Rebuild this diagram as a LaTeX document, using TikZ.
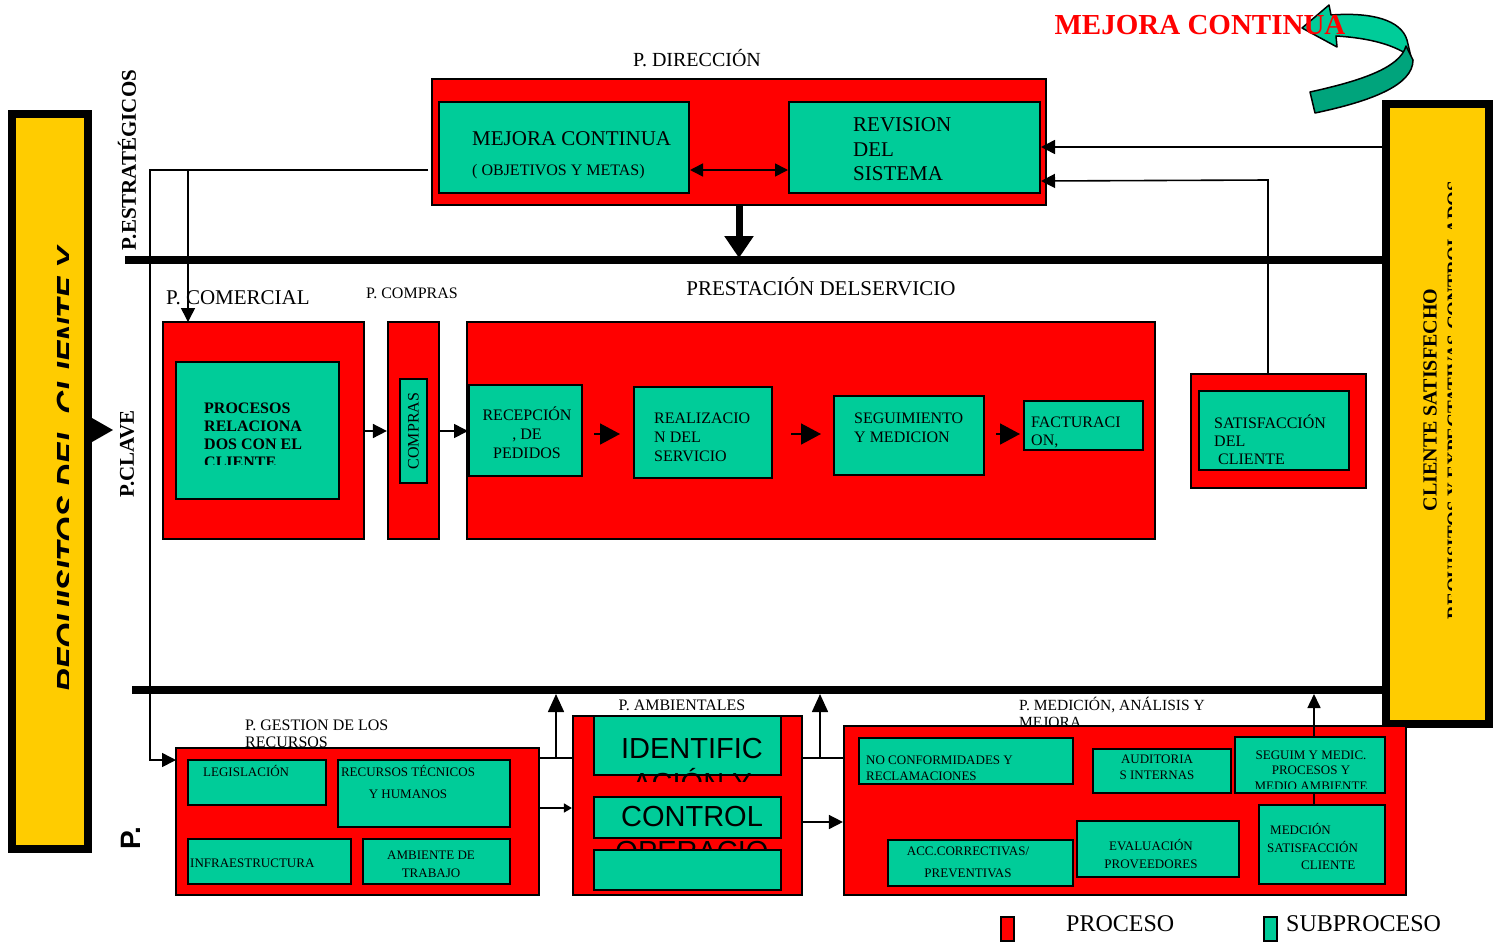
\documentclass[tikz,border=0pt]{standalone}
\usepackage{fontspec}
\setmainfont{Liberation Serif}
\newfontfamily\arialf{Liberation Sans}
\usetikzlibrary{fit,arrows.meta}
\definecolor{procred}{HTML}{FF0000}
\definecolor{subgreen}{HTML}{00CC99}
\definecolor{baryellow}{HTML}{FFCC00}
\definecolor{darkgreen}{HTML}{00A47C}
\begin{document}
\begin{tikzpicture}[x=1pt,y=-1pt,
 proc/.style={draw=black, line width=2.2pt, fill=procred, inner sep=0pt},
 sub/.style={draw=black, line width=2pt, fill=subgreen, inner sep=0pt},
 ybar/.style={draw=black, line width=8pt, fill=baryellow, inner sep=0pt},
 conn/.style={draw=black, line width=1.6pt},
 arr/.style={conn, -{Triangle[length=14pt,width=14pt]}},
 bigarr/.style={conn, -{Triangle[length=20pt,width=21pt]}},
 sep/.style={draw=black, line width=8pt},
 txt/.style={inner sep=0pt, font=\fontsize{16}{19}\selectfont},
 stxt/.style={inner sep=0pt, font=\fontsize{13}{16}\selectfont},
 ltxt/.style={inner sep=0pt, font=\fontsize{21}{24.5}\selectfont}]
\useasboundingbox (0,0) rectangle (1503,945);
\fill[white] (0,0) rectangle (1503,945);

% ---------- separators ----------
\coordinate (s1a) at (125,260); \coordinate (s1b) at (1385,260);
\coordinate (s2a) at (132,690); \coordinate (s2b) at (1385,690);
\draw[sep] (s1a) -- (s1b);
\draw[sep] (s2a) -- (s2b);

% ---------- left bar ----------
\node[ybar, fit={(12,114) (88,849)}] (req) {};
\begin{scope}
\clip (50,100) rectangle (68,860);
\node[inner sep=0pt, rotate=90, anchor=base, font=\arialf\bfseries\itshape\fontsize{32}{38}\selectfont] (reqt) at (79,470) {REQUISITOS DEL CLIENTE Y};
\end{scope}
\fill (92,418) -- (113,430) -- (92,442) -- cycle;
\node[inner sep=0pt, rotate=90, font=\bfseries\fontsize{21}{25}\selectfont] (pest) at (127,160) {P.ESTRATÉGICOS};
\node[inner sep=0pt, rotate=90, font=\bfseries\fontsize{21}{25}\selectfont] (pcla) at (127,454) {P.CLAVE};
\node[inner sep=0pt, rotate=90, font=\arialf\bfseries\fontsize{28}{32}\selectfont] (psop) at (131,838) {P.};

% ---------- right bar ----------
\node[ybar, fit={(1386,104) (1489,724)}] (cli) {};
\node[inner sep=0pt, rotate=90, font=\bfseries\fontsize{20}{24}\selectfont] (clit) at (1430,400) {CLIENTE SATISFECHO};
\begin{scope}
\clip (1447,150) rectangle (1451.5,650);
\node[inner sep=0pt, rotate=90, anchor=base, font=\bfseries\fontsize{19}{23}\selectfont] (clit2) at (1460,400) {REQUISITOS Y EXPECTATIVAS CONTROLADOS};
\end{scope}

% ---------- mejora continua arrow ----------
\filldraw[fill=subgreen, draw=black, line width=1.5pt, line join=round]
 (1302,28) -- (1329,5) -- (1331,15) .. controls (1372,12) and (1401,20) .. (1407,40)
 -- (1411,57) .. controls (1395,45) and (1370,38) .. (1336,36) -- (1337,47) -- cycle;
\filldraw[fill=darkgreen, draw=black, line width=1.5pt, line join=round]
 (1406,46) -- (1413,60) .. controls (1413,85) and (1372,101) .. (1315,113) -- (1310,92)
 .. controls (1360,81) and (1400,68) .. (1406,46) -- cycle;
\node[inner sep=0pt, text=procred, font=\bfseries\fontsize{29}{34}\selectfont] (mctitle) at (1200,25) {MEJORA CONTINUA};

% ---------- P. DIRECCION ----------
\node[inner sep=0pt, font=\fontsize{20}{24}\selectfont] (ldir) at (697,58) {P. DIRECCIÓN};
\node[proc, fit={(432,79) (1046,205)}] (dir) {};
\node[sub, fit={(439,102) (689,193)}] (mc) {};
\node[sub, fit={(789,102) (1040,193)}] (rev) {};
\node[ltxt, anchor=west] (mct1) at (472,139) {MEJORA CONTINUA};
\node[txt, anchor=west] (mct2) at (472,172) {( OBJETIVOS Y METAS)};
\node[ltxt, align=left, anchor=west] (revt) at (853,149.5) {REVISION\\DEL\\SISTEMA};
\draw[conn, {Triangle[length=13pt,width=13pt]}-{Triangle[length=13pt,width=13pt]}] (mc.east |- 0,170) -- (rev.west |- 0,170);
\draw[conn, line width=7pt, -{Triangle[length=22pt,width=28pt]}] (dir.south) -- (dir.south |- 0,258);

% left feeder lines
\coordinate (ls) at (428,170);
\coordinate (lc) at (150,170);
\coordinate (lk) at (188,170);
\draw[arr] (ls) -- (lc) -- (lc |- 0,760) -- (176,760);
\draw[arr] (lk) -- (188,322);

% ---------- labels middle ----------
\node[inner sep=0pt, anchor=west, font=\fontsize{21}{25}\selectfont] (lcom) at (166,298) {P. COMERCIAL};
\node[txt, anchor=west] (lcmp) at (366,293) {P. COMPRAS};
\node[ltxt] (lpre) at (821,287) {PRESTACIÓN DELSERVICIO};

% comercial
\node[proc, fit={(163,322) (364,539)}] (com) {};
\node[sub, fit={(176,362) (339,499)}] (comin) {};
\begin{scope}
\clip (176,362) rectangle (339,464);
\node[inner sep=0pt, align=left, anchor=north west, font=\bfseries\fontsize{16}{18}\selectfont] (comt) at (204,402.7) {PROCESOS\\RELACIONA\\DOS CON EL\\CLIENTE};
\end{scope}

% compras
\node[proc, fit={(388,322) (439,539)}] (cmp) {};
\node[sub, fit={(400,379) (427,483)}] (cmpin) {};
\node[txt, rotate=90] (cmpt) at (413.5,431) {COMPRAS};

% prestacion
\node[proc, fit={(467,322) (1155,539)}] (pre) {};
\node[sub, fit={(469,385) (582,476)}] (rec) {};
\node[sub, fit={(634,387) (772,478)}] (rea) {};
\node[sub, fit={(834,396) (984,475)}] (seg) {};
\node[sub, fit={(1024,401) (1143,450)}] (fac) {};
\node[txt, align=center] (rect) at (527,433) {RECEPCIÓN\\, DE\\PEDIDOS};
\node[txt, align=left, anchor=west] (reat) at (654,437) {REALIZACIO\\N DEL\\SERVICIO};
\node[txt, align=left, anchor=west] (segt) at (854,427.5) {SEGUIMIENTO\\Y MEDICION};
\node[inner sep=0pt, align=left, anchor=west, font=\fontsize{16}{18}\selectfont] (fact) at (1031,432) {FACTURACI\\ON,};

\draw[arr] (com.east |- 0,431) -- (cmp.west |- 0,431);
\draw[arr] (cmp.east |- 0,431) -- (rec.west |- 0,431);
\draw[bigarr, shorten <=11pt, shorten >=13pt] (rec.east |- 0,434) -- (rea.west |- 0,434);
\draw[bigarr, shorten <=18pt, shorten >=12pt] (rea.east |- 0,434) -- (seg.west |- 0,434);
\draw[bigarr, shorten <=11pt, shorten >=3pt] (seg.east |- 0,434) -- (fac.west |- 0,434);

% satisfaccion
\node[proc, fit={(1191,374) (1366,488)}] (sat) {};
\node[sub, fit={(1199,391) (1349,470)}] (satin) {};
\node[inner sep=0pt, align=left, anchor=west, font=\fontsize{16}{18}\selectfont] (satt) at (1214,440) {SATISFACCIÓN\\DEL\\\hspace{4pt}CLIENTE};

% right-side feedback arrows
\draw[arr] (cli.west |- 0,147) -- (rev.east |- 0,147);
\draw[arr] (1268,0 |- sat.north) -- (1268,180) -- (rev.east |- 0,181);

% ---------- bottom: gestion ----------
\node[inner sep=0pt, align=left, anchor=west, font=\fontsize{16}{17}\selectfont] (lgest) at (245,733.5) {P. GESTION DE LOS\\RECURSOS};
\node[proc, fit={(176,748) (539,895)}] (gest) {};
\node[sub, fit={(188,760) (326,805)}] (leg) {};
\node[sub, fit={(338,760) (510,827)}] (rth) {};
\node[sub, fit={(188,839) (351,884)}] (inf) {};
\node[sub, fit={(363,839) (510,884)}] (amt) {};
\node[stxt, anchor=west] (legt) at (203,771) {LEGISLACIÓN};
\node[stxt, align=center, font=\fontsize{13}{22}\selectfont] (rtht) at (408,782) {RECURSOS TÉCNICOS\\Y HUMANOS};
\node[stxt, anchor=west] (inft) at (190,863) {INFRAESTRUCTURA};
\node[stxt, align=center, font=\fontsize{13}{18}\selectfont] (amtt) at (431,864) {AMBIENTE DE\\TRABAJO};

% ---------- ambientales ----------
\node[txt] (lamb) at (682,705) {P. AMBIENTALES};
\node[proc, fit={(573,716) (802,895)}] (amb) {};
\node[sub, fit={(594,716) (781,775)}] (id1) {};
\begin{scope}
\clip (575,716) rectangle (800,781);
\node[inner sep=0pt, align=center, anchor=north, font=\arialf\fontsize{29}{35}\selectfont] (id1t) at (692,737.6) {IDENTIFIC\\ACIÓN Y};
\end{scope}
\node[sub, fit={(594,797) (781,838)}] (id2) {};
\begin{scope}
\clip (575,790) rectangle (800,850);
\node[inner sep=0pt, align=center, anchor=north, font=\arialf\fontsize{29}{35}\selectfont] (id2t) at (692,805.6) {CONTROL\\OPERACIO};
\end{scope}
\node[sub, fit={(594,850) (781,890)}] (id3) {};

% ---------- medicion ----------
\node[inner sep=0pt, align=left, anchor=west, font=\fontsize{15.5}{17}\selectfont] (lmed) at (1019,712.5) {P. MEDICIÓN, ANÁLISIS Y\\MEJORA};
\node[proc, fit={(844,726) (1406,895)}] (med) {};
\node[sub, fit={(859,738) (1073,784)}] (nc) {};
\node[sub, fit={(1093,749) (1231,793)}] (aud) {};
\node[sub, fit={(1235,737) (1385,793)}] (smed) {};
\node[sub, fit={(888,840) (1073,886)}] (acc) {};
\node[sub, fit={(1077,821) (1239,877)}] (eva) {};
\node[sub, fit={(1259,805) (1385,884)}] (msat) {};
\node[stxt, align=left, anchor=west] (nct) at (866,768) {NO CONFORMIDADES Y\\RECLAMACIONES};
\node[stxt, align=center] (audt) at (1157,767) {AUDITORIA\\S INTERNAS};
\begin{scope}
\clip (1236,738) rectangle (1384,788);
\node[stxt, align=center, font=\fontsize{13}{15.5}\selectfont] (smedt) at (1311,770.5) {SEGUIM Y MEDIC.\\PROCESOS Y\\MEDIO AMBIENTE};
\end{scope}
\node[stxt, align=center, font=\fontsize{13}{22}\selectfont] (acct) at (968,862) {ACC.CORRECTIVAS/\\PREVENTIVAS};
\node[stxt, align=center, font=\fontsize{13}{18}\selectfont] (evat) at (1151,854) {EVALUACIÓN\\PROVEEDORES};
\node[stxt, align=left, anchor=west, font=\fontsize{13}{17.5}\selectfont] (msatt) at (1267,846.5) {\hspace{3pt}MEDCIÓN\\SATISFACCIÓN\\\hspace{34pt}CLIENTE};

% ---------- bottom connectors ----------
\coordinate (j1) at (556,758);
\coordinate (j2) at (820,758);
\draw[conn] (gest.east |- j1) -- (amb.west |- j1);
\draw[arr, -{Triangle[length=18pt,width=16pt]}] (j1) -- (556,694);
\draw[arr, -{Triangle[length=8pt,width=9pt]}] (gest.east |- 0,808) -- (amb.west |- 0,808);
\draw[conn] (amb.east |- j2) -- (med.west |- j2);
\draw[arr, -{Triangle[length=18pt,width=16pt]}] (j2) -- (820,694);
\draw[arr, -{Triangle[length=14pt,width=14pt]}] (amb.east |- 0,822) -- (med.west |- 0,822);
\draw[conn] (1314,0 |- smed.south) -- (1314,0 |- msat.north);
\draw[arr, -{Triangle[length=14pt,width=13pt]}] (1314,0 |- smed.north) -- (1314,694);

% ---------- legend ----------
\node[proc, fit={(1001,917) (1014,941)}] (lgp) {};
\node[inner sep=0pt, anchor=west, font=\fontsize{24}{28}\selectfont] (lgpt) at (1066,924) {PROCESO};
\node[sub, fit={(1264,917) (1277,941)}] (lgs) {};
\node[inner sep=0pt, anchor=west, font=\fontsize{24}{28}\selectfont] (lgst) at (1286,924) {SUBPROCESO};
\end{tikzpicture}
\end{document}
